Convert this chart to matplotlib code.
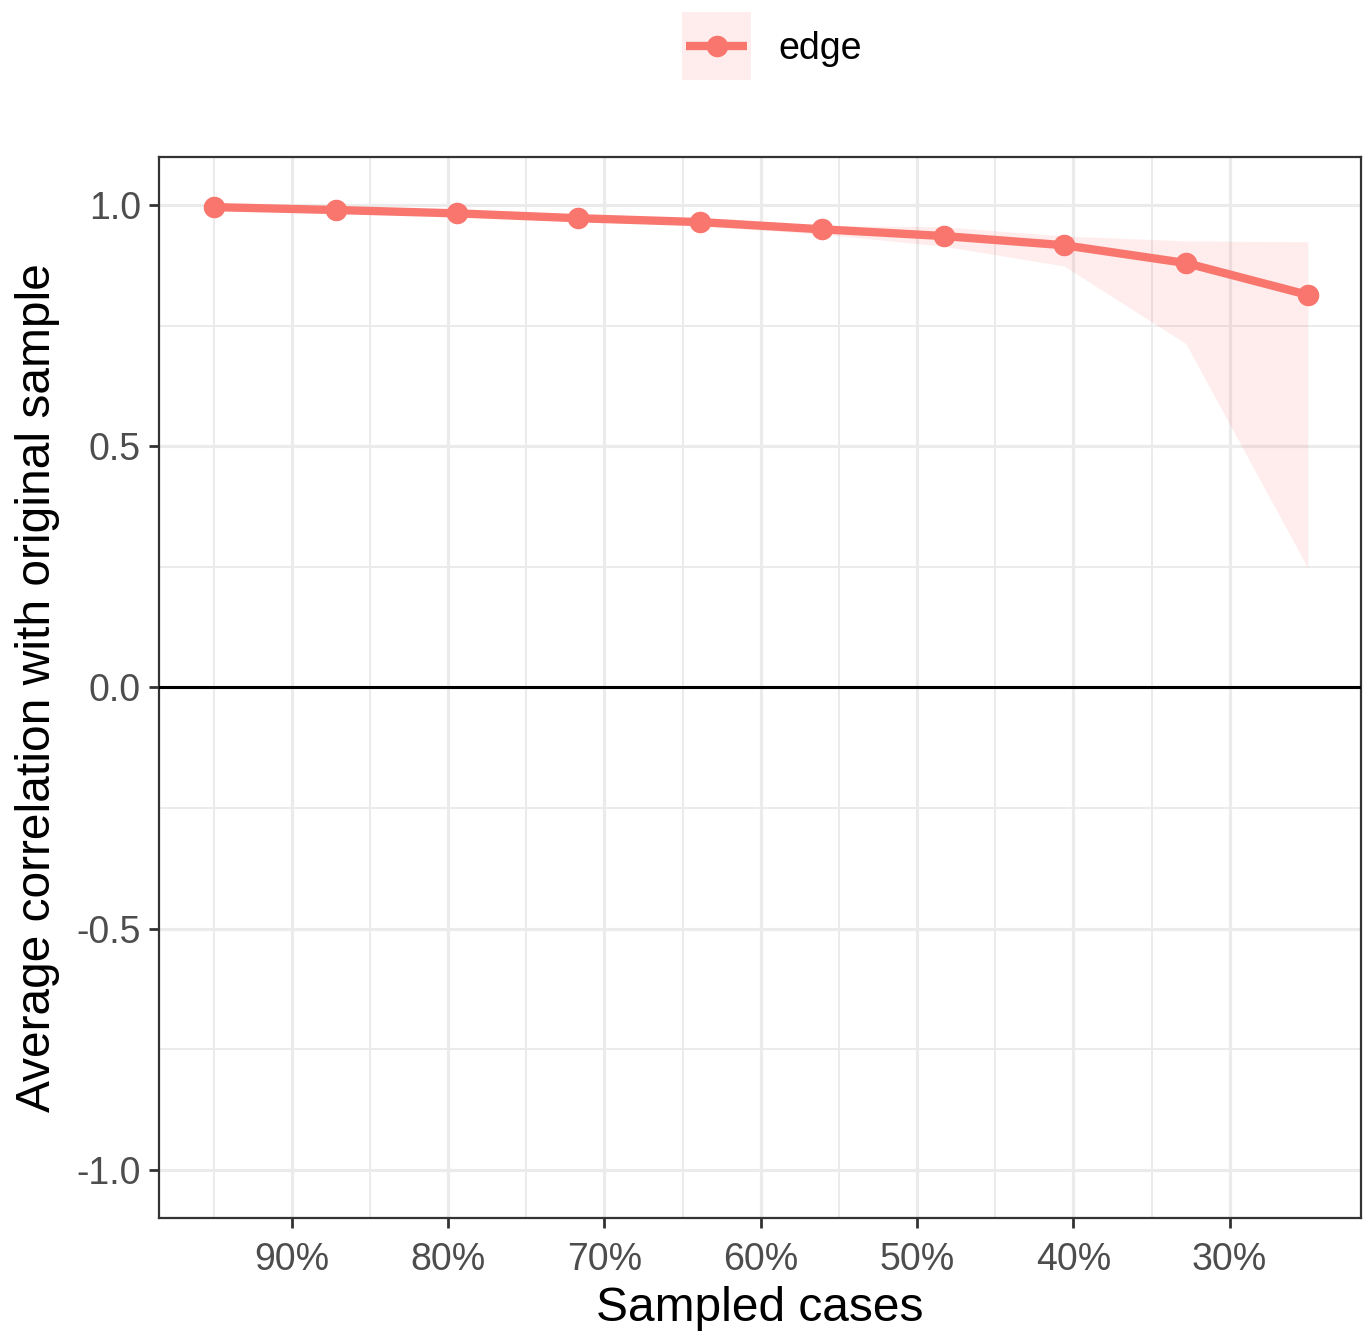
import matplotlib
matplotlib.use("Agg")
import matplotlib.pyplot as plt
from matplotlib.ticker import FixedLocator, FuncFormatter

plt.rcParams["font.family"] = ["Liberation Sans", "DejaVu Sans"]

# share of cases kept in the subsample (%)
sampled_pct = [95.0, 87.2, 79.4, 71.7, 63.9, 56.1, 48.3, 40.6, 32.8, 25.0]
mean_corr = [0.996, 0.990, 0.983, 0.973, 0.965, 0.950, 0.936, 0.917, 0.880, 0.814]
upper_corr = [0.998, 0.994, 0.988, 0.979, 0.972, 0.958, 0.955, 0.936, 0.926, 0.924]
lower_corr = [0.994, 0.986, 0.978, 0.967, 0.957, 0.940, 0.915, 0.874, 0.713, 0.248]
series_name = "edge"

x_major = [90, 80, 70, 60, 50, 40, 30]
x_minor = [95, 85, 75, 65, 55, 45, 35]
y_major = [-1.0, -0.5, 0.0, 0.5, 1.0]
y_minor = [-0.75, -0.25, 0.25, 0.75]

RED = "#F8766D"
GRID = "#EBEBEB"
DARK = "#333333"
RIBBON_ALPHA = 0.13

fig = plt.figure(figsize=(13.70, 13.38), dpi=100)
ax = fig.add_axes([0.116, 0.0897, 0.8774, 0.793])

ax.fill_between(sampled_pct, lower_corr, upper_corr, color=RED, alpha=RIBBON_ALPHA,
                linewidth=0, zorder=2)
ax.axhline(0, color="black", linewidth=2.2, zorder=3)
ax.plot(sampled_pct, mean_corr, color=RED, linewidth=6, marker="o", markersize=14.5,
        solid_capstyle="butt", zorder=4)

ax.set_xlim(98.5, 21.6)
ax.set_ylim(-1.1, 1.1)

ax.xaxis.set_major_locator(FixedLocator(x_major))
ax.xaxis.set_minor_locator(FixedLocator(x_minor))
ax.yaxis.set_major_locator(FixedLocator(y_major))
ax.yaxis.set_minor_locator(FixedLocator(y_minor))
ax.xaxis.set_major_formatter(FuncFormatter(lambda v, p: f"{v:.0f}%"))
ax.yaxis.set_major_formatter(FuncFormatter(lambda v, p: f"{v:.1f}"))

ax.grid(which="major", color=GRID, linewidth=2.3, zorder=0)
ax.grid(which="minor", color=GRID, linewidth=1.4, zorder=0)
ax.set_axisbelow(True)

ax.tick_params(which="major", length=7, width=2, color=DARK, labelsize=27,
               labelcolor="#4D4D4D")
ax.tick_params(axis="x", which="major", pad=10)
ax.tick_params(axis="y", which="major", pad=6)
ax.tick_params(which="minor", length=0)
for s in ax.spines.values():
    s.set_color(DARK)
    s.set_linewidth(1.6)

ax.set_xlabel("Sampled cases", fontsize=34.5, color="black", labelpad=6)
ax.set_ylabel("Average correlation with original sample", fontsize=34.5, color="black", labelpad=12)

# legend key drawn ggplot-style: ribbon-coloured square with the line+point on top
key = fig.add_axes([0.4978, 0.9402, 0.0504, 0.0508])
key.axvspan(0, 1, color=RED, alpha=RIBBON_ALPHA, linewidth=0)
key.plot([0.06, 0.94], [0.5, 0.5], color=RED, linewidth=6, solid_capstyle="butt")
key.plot([0.5], [0.5], color=RED, marker="o", markersize=14.5)
key.set_xlim(0, 1)
key.set_ylim(0, 1)
key.axis("off")
fig.text(0.568, 0.9634, series_name, fontsize=27, ha="left", va="center")

fig.savefig("out.png", dpi=100)
